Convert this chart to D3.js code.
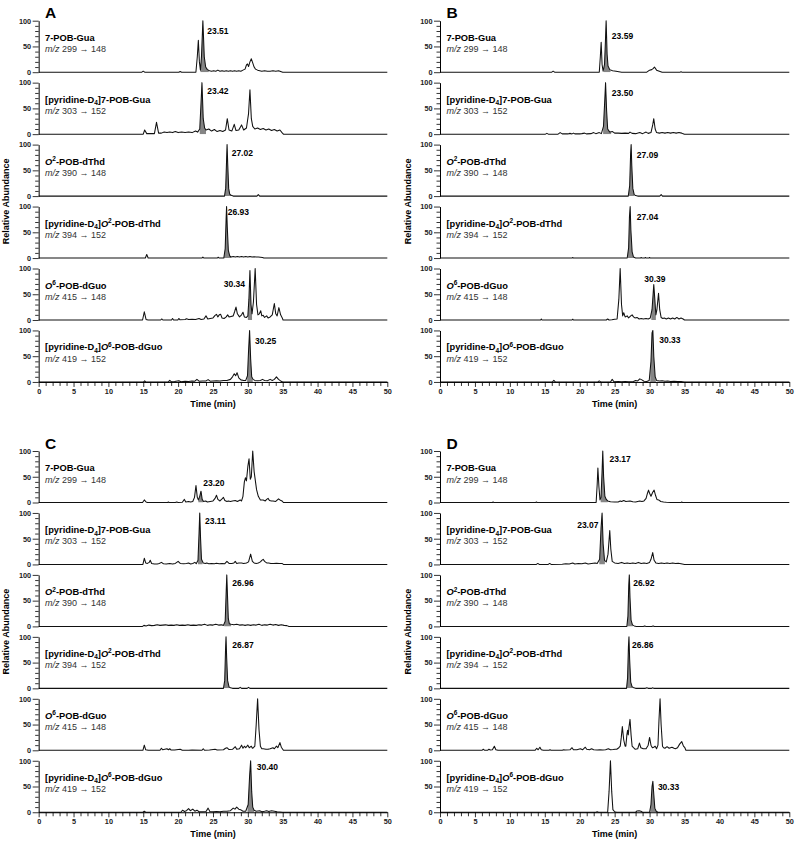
<!DOCTYPE html>
<html><head><meta charset="utf-8">
<script src="https://cdn.jsdelivr.net/npm/d3@7"></script>
<style>body{margin:0;background:#fff}svg{font-family:"Liberation Sans",Arial,sans-serif}</style>
</head><body>
<svg id="c" width="800" height="842"></svg>
<script>
// ---------------- DATA ----------------
const panelLetters = ["A","B","C","D"];
const xTickLabels = [0,5,10,15,20,25,30,35,40,45,50];
const xMinorTicks = [1,2,3,4,6,7,8,9,11,12,13,14,16,17,18,19,21,22,23,24,26,27,28,29,31,32,33,34,36,37,38,39,41,42,43,44,46,47,48,49];
const yTickLabels = [0,50,100];
const yMinorTicks = [10,20,30,40,60,70,80,90];
const compoundNames = [
 [["7-POB-Gua",""]],
 [["[pyridine-D",""],["4","sub"],["]7-POB-Gua",""]],
 [["O","i"],["2","sup"],["-POB-dThd",""]],
 [["[pyridine-D",""],["4","sub"],["]",""],["O","i"],["2","sup"],["-POB-dThd",""]],
 [["O","i"],["6","sup"],["-POB-dGuo",""]],
 [["[pyridine-D",""],["4","sub"],["]",""],["O","i"],["6","sup"],["-POB-dGuo",""]]
];
const mzPrecursor = [299,303,390,394,415,419];
const mzProduct = [148,152,148,152,148,152];

// chromatogram traces [time (min), relative abundance]
const A1 = [[0,0],[14.8,0],[15,2],[15.2,0],[20.1,0],[20.3,1.5],[20.5,0],[22.55,0],[22.75,30],[22.9,62],[23.05,20],[23.2,4],[23.35,30],[23.55,100],[23.75,30],[23.95,10],[24.2,5],[24.5,3],[24.8,2],[25.1,3],[25.4,2],[25.7,4],[26,2],[26.3,3],[26.6,2],[26.9,3],[27.2,2],[27.5,3],[27.8,2],[28.1,3],[28.4,2],[28.7,3],[29.0,2],[29.3,4],[29.6,6],[29.8,14],[29.95,16],[30.1,11],[30.3,20],[30.5,26],[30.7,18],[30.9,10],[31.1,6],[31.4,4],[31.7,3],[32,2],[32.4,3],[32.8,2],[33.2,2],[33.6,3],[34,2],[34.4,3],[34.8,1],[35,0],[50,0]];
const A2 = [[0,0],[15,0],[15.2,8],[15.5,1],[16.6,1],[16.9,23],[17.2,2],[17.6,2],[18,4],[18.4,3],[18.8,4],[19.2,3],[19.6,5],[20,3],[20.5,4],[21,3],[21.5,4],[22,3],[22.5,6],[22.8,4],[23.1,10],[23.25,50],[23.42,100],[23.6,30],[23.8,12],[24,8],[24.4,10],[24.8,6],[25.2,9],[25.6,5],[26,7],[26.4,5],[26.8,8],[27.05,30],[27.3,8],[27.7,6],[28.05,19],[28.3,7],[28.7,8],[29.1,18],[29.4,8],[29.8,12],[30.1,40],[30.3,86],[30.5,30],[30.7,15],[31,10],[31.4,12],[31.8,9],[32.2,11],[32.6,8],[33,10],[33.4,7],[33.8,9],[34.2,6],[34.6,8],[34.9,3],[35.1,0],[50,0]];
const A3 = [[0,0],[26.65,0],[26.82,15],[26.95,70],[27.02,100],[27.12,60],[27.25,15],[27.4,4],[27.6,1.5],[27.9,0],[31.3,0],[31.5,3],[31.7,0],[50,0]];
const A4 = [[0,0],[15.3,0],[15.5,7],[15.7,0],[23.4,0],[23.55,2],[23.7,0],[25.6,0],[25.75,1.5],[25.9,0],[26.55,0],[26.75,18],[26.88,75],[26.95,100],[27.05,60],[27.2,15],[27.4,4],[27.6,2],[27.9,3],[28.2,2],[28.5,3],[28.8,2],[29.1,3],[29.4,2],[29.7,3],[30.0,2],[30.3,3],[30.6,2],[30.9,2.5],[31.2,2],[31.5,2],[31.8,1.5],[32.1,1],[32.3,0],[50,0]];
const A5 = [[0,0],[14.9,0],[15.15,16],[15.4,1],[15.7,0],[17.5,0],[17.65,2],[17.8,0],[19.05,0],[19.2,3],[19.35,0],[19.95,0],[20.1,3],[20.25,0.5],[21,1],[21.2,2.5],[21.5,1],[22,1.5],[22.5,1],[23,3],[23.3,1],[23.7,2],[24.0,8],[24.25,2],[24.6,3],[25,4],[25.3,9],[25.5,11],[25.7,6],[25.9,10],[26.1,11],[26.3,4],[26.6,3],[26.9,6],[27.1,10],[27.3,6],[27.6,7],[27.9,8],[28.1,16],[28.3,25],[28.5,12],[28.8,6],[29.1,10],[29.3,15],[29.5,6],[29.8,5],[30.0,8],[30.15,40],[30.3,96],[30.45,30],[30.6,12],[30.8,35],[31.05,100],[31.25,30],[31.45,10],[31.65,12],[31.85,18],[32.0,8],[32.2,9],[32.4,5],[32.7,8],[32.9,4],[33.2,6],[33.5,10],[33.8,32],[34.0,12],[34.2,8],[34.45,24],[34.7,10],[34.9,5],[35.05,0],[50,0]];
const A6 = [[0,0],[15.05,0],[15.2,2],[15.35,0],[18.6,0],[18.8,3],[19.0,0.5],[19.5,1],[20.1,2.5],[20.4,0.5],[21,1.5],[21.5,1],[22,2],[22.4,1.5],[22.7,5],[23,1.5],[23.5,2],[24.0,2],[24.3,4.5],[24.6,1.5],[25,2],[25.5,2.5],[26,2],[26.5,3],[27,3],[27.5,5],[27.8,10],[28.05,16],[28.25,12],[28.45,18],[28.7,8],[29,4],[29.4,3],[29.7,3],[29.95,12],[30.1,60],[30.25,100],[30.4,45],[30.55,10],[30.75,5],[31,3],[31.4,2.5],[31.8,3],[32.1,5],[32.4,3],[32.8,2.5],[33.2,5],[33.5,3],[33.8,5],[34.1,10],[34.4,5],[34.7,2],[35,0],[50,0]];

const B1 = [[0,0],[16,0],[16.2,2],[16.4,0],[22.8,0],[22.95,30],[23.07,58],[23.2,15],[23.35,2],[23.55,15],[23.68,60],[23.78,100],[23.92,35],[24.05,12],[24.3,5],[24.7,3],[25.2,2],[25.6,1],[26,0],[29.6,0],[30.0,4],[30.3,5],[30.5,7],[30.7,10],[31.0,4],[31.4,2],[31.8,0],[34.4,0],[34.5,1],[34.6,0],[50,0]];
const B2 = [[0,0],[15.1,0],[15.3,1.5],[15.5,0],[16.9,0],[17.2,3],[17.5,0.5],[18.3,0.5],[18.6,1.5],[18.9,0.5],[19.1,2],[19.3,0.5],[20,0.5],[20.3,1],[20.7,2],[21,0.5],[21.6,1],[22,3],[22.3,1],[22.8,3],[23.1,1],[23.4,15],[23.6,70],[23.7,100],[23.85,45],[24.0,10],[24.3,4],[24.7,5],[25.0,2],[25.5,2],[26,1.5],[26.5,2],[27,1.5],[27.2,4],[27.5,1.5],[28,1],[28.6,3],[29,1],[29.5,4],[29.8,1.5],[30.2,3],[30.45,18],[30.6,30],[30.8,10],[31.0,3],[31.4,2],[31.8,3],[32.2,2],[32.6,3],[33,2],[33.4,3],[33.8,2],[34.2,3],[34.6,2],[34.8,1],[35,0],[50,0]];
const B3 = [[0,0],[26.95,0],[27.15,20],[27.28,80],[27.36,100],[27.45,60],[27.6,15],[27.8,3],[28.0,1],[28.3,0],[31.45,0],[31.66,3],[31.85,0],[50,0]];
const B4 = [[0,0],[18.9,0],[19.0,1],[19.1,0],[26.8,0],[27.0,20],[27.12,80],[27.22,100],[27.32,55],[27.5,12],[27.7,2],[28.0,0],[28.7,0],[28.8,1.2],[28.9,0],[29.3,0],[29.4,1.2],[29.5,0],[29.9,0],[30.0,1.2],[30.1,0],[50,0]];
const B5 = [[0,0],[14.4,0],[14.5,2],[14.6,0],[18.9,0],[19.0,1.5],[19.1,0],[23.8,0],[24.0,2],[24.2,0],[24.6,0.5],[25.0,1.5],[25.35,2],[25.6,40],[25.79,100],[25.98,30],[26.15,8],[26.3,14],[26.5,6],[26.8,8],[27.0,4],[27.3,8],[27.5,10],[27.7,6],[27.9,4],[28.2,5],[28.5,2],[28.8,3],[29.1,2],[29.5,3],[29.8,2],[30.1,4],[30.35,20],[30.6,69],[30.75,40],[30.9,10],[31.05,20],[31.28,52],[31.45,20],[31.65,5],[31.9,3],[32.1,4],[32.4,2],[32.7,4],[33,2],[33.3,4],[33.6,2],[33.9,5],[34.2,2],[34.5,4],[34.8,2],[35,0],[50,0]];
const B6 = [[0,0],[16.1,0],[16.3,3],[16.5,0],[22.6,0],[22.8,2],[23.0,0],[24.4,0],[24.65,5],[24.9,0.5],[25.5,1],[26,0.5],[26.5,1],[27,0.5],[27.7,1],[28.0,3],[28.3,2],[28.6,6],[28.9,4],[29.2,1.5],[29.6,1],[29.95,3],[30.2,40],[30.35,95],[30.47,100],[30.6,50],[30.8,10],[31.0,3],[31.4,2],[31.8,2.5],[32.2,1.5],[32.6,2],[33,1],[33.5,1.5],[34,1],[34.5,1],[35,0],[50,0]];

const C1 = [[0,0],[14.9,0],[15.15,5],[15.4,1],[15.6,0],[18.5,0],[18.6,1],[18.7,0],[19.6,0],[19.8,1],[20,0],[20.6,0.5],[20.9,6],[21.1,1],[21.5,2],[21.8,1],[22.1,2],[22.35,10],[22.56,33],[22.75,10],[22.9,5],[23.1,12],[23.28,22],[23.45,6],[23.65,2],[23.95,3],[24.2,1],[24.6,2],[25,3],[25.3,8],[25.5,14],[25.7,6],[26,3],[26.3,7],[26.5,10],[26.7,4],[27,2],[27.2,3],[27.5,2],[27.8,3],[28.2,4],[28.5,2],[28.9,5],[29.1,3],[29.3,12],[29.5,40],[29.65,48],[29.8,42],[30.0,70],[30.17,85],[30.35,45],[30.5,50],[30.7,100],[30.9,60],[31.05,45],[31.25,25],[31.5,12],[31.8,5],[32.2,5],[32.5,3],[32.7,6],[32.9,8],[33.1,4],[33.4,3],[33.6,3],[34.0,2],[34.4,7],[34.6,5],[34.9,3],[35.1,0],[50,0]];
const C2 = [[0,0],[14.95,0],[15.15,12],[15.35,3],[15.6,2],[15.85,4],[16.0,8],[16.2,2],[16.6,1],[17.0,1],[17.3,2],[17.6,4],[17.9,1.5],[18.3,1],[18.8,2],[19.2,1],[19.6,2],[20.0,6],[20.3,2],[20.8,1.5],[21.2,2],[21.5,3],[21.8,1],[22.1,2],[22.4,4],[22.6,1.5],[22.85,8],[23.0,60],[23.1,100],[23.22,50],[23.35,10],[23.6,3],[23.9,2],[24.1,3],[24.4,1.5],[24.8,2],[25.2,1.5],[25.5,2.5],[25.9,1.5],[26.3,2],[26.7,1.5],[27.0,6],[27.3,2],[27.7,2],[28.0,3],[28.2,6],[28.4,2],[28.7,3],[29.1,3],[29.4,2],[29.8,3],[30.1,5],[30.4,20],[30.65,6],[30.9,3],[31.2,2],[31.5,3],[31.8,5],[32.0,8],[32.2,10],[32.4,6],[32.7,3],[33.0,3],[33.3,2],[33.7,2],[34.1,2.5],[34.5,2],[34.9,2],[35.1,0],[50,0]];
const C3 = [[0,0],[14.9,0],[15.1,2],[15.4,1],[15.8,2.5],[16.2,1.5],[16.6,2],[17,3],[17.4,2],[17.8,2.5],[18.2,3],[18.6,2],[19,2.5],[19.4,2],[19.8,3],[20.2,2],[20.6,2.5],[21,2],[21.4,3],[21.8,2],[22.2,2.5],[22.6,2],[23,3],[23.4,2.5],[23.8,4],[24.2,2],[24.6,3],[25,2.5],[25.4,4],[25.8,2.5],[26.2,3],[26.5,2],[26.75,10],[26.9,70],[26.98,100],[27.08,60],[27.2,15],[27.35,5],[27.6,4],[28,3],[28.4,4],[28.8,2.5],[29.2,3],[29.6,2],[30,3],[30.4,2],[30.8,3],[31.2,2.5],[31.6,4],[32,2],[32.4,3],[32.8,2.5],[33.2,4],[33.6,2.5],[34,3.5],[34.4,2],[34.8,3],[35.2,2],[35.6,1.5],[35.9,0],[50,0]];
const C4 = [[0,0],[26.5,0],[26.68,15],[26.8,75],[26.87,100],[26.96,60],[27.1,15],[27.3,3],[27.5,1],[27.8,0],[28.7,0],[28.9,2],[29.1,0],[29.9,0],[30.1,2],[30.3,0],[50,0]];
const C5 = [[0,0],[14.95,0],[15.15,10],[15.35,1],[15.7,0],[17.4,0],[17.6,4],[17.8,1],[18.1,2],[18.4,3],[18.6,1],[18.8,3],[19.0,0.5],[19.5,0.5],[20.3,2],[20.6,0],[21.5,0],[22,0.5],[23.4,0],[23.6,3],[23.8,0],[24.5,0.5],[25.3,2],[25.6,0.5],[26.5,1],[26.8,4],[27.0,5],[27.3,1.5],[27.8,2],[28.2,7],[28.4,2],[28.8,3],[29.1,10],[29.3,4],[29.5,8],[29.7,5],[30.0,10],[30.2,5],[30.5,8],[30.65,4],[30.8,5],[31.0,8],[31.2,50],[31.4,100],[31.6,40],[31.8,8],[32.0,3],[32.2,3],[32.6,2],[32.9,2],[33.2,3],[33.6,5],[33.8,3],[34.1,8],[34.3,5],[34.6,15],[34.8,6],[34.95,3],[35.1,0],[50,0]];
const C6 = [[0,0],[14.95,0],[15.15,2],[15.35,0],[20.4,0],[20.65,4],[20.9,1.5],[21.2,3],[21.5,7],[21.75,3],[22.1,6],[22.4,2],[22.7,4],[23,1],[23.5,1],[24.0,1.5],[24.3,8],[24.55,1.5],[25,1],[25.5,1.5],[26,1],[26.5,2],[27,2],[27.5,3],[27.9,8],[28.15,6],[28.4,10],[28.7,6],[28.95,5],[29.3,2],[29.7,2],[30.05,15],[30.25,70],[30.4,100],[30.55,40],[30.7,10],[30.9,4],[31.2,2],[31.7,3],[32,1],[32.4,2],[32.7,3],[33,1.5],[33.4,3],[33.8,2],[34.2,1],[34.6,0.5],[35,0],[50,0]];

const D1 = [[0,0],[7.5,0],[7.6,1],[7.7,0],[13.7,0],[13.8,1],[13.9,0],[22.35,0],[22.5,35],[22.6,67],[22.75,30],[22.9,5],[23.05,10],[23.2,60],[23.3,100],[23.42,50],[23.6,12],[23.8,6],[24.0,3],[24.4,1.5],[25.0,1],[25.5,1],[25.8,3],[26.0,2],[26.3,4],[26.6,2],[26.9,2.5],[27.2,3],[27.6,1.5],[28.0,1],[28.3,2],[28.6,3],[28.9,2],[29.2,3],[29.5,8],[29.7,18],[29.85,24],[30.0,18],[30.2,12],[30.45,20],[30.65,24],[30.85,14],[31.05,6],[31.3,5],[31.6,2],[32.0,1],[32.4,0.5],[33,0],[34.5,0],[34.6,1],[34.7,0],[50,0]];
const D2 = [[0,0],[13.8,0],[14,2],[14.2,0],[15.5,0],[15.7,2],[15.9,0],[17.5,0.5],[18,1.5],[18.5,1],[19,3],[19.3,1],[19.8,2],[20.3,1.5],[20.8,3],[21.2,1],[21.7,2],[22.2,3],[22.5,2],[22.85,10],[23.05,70],[23.2,100],[23.35,40],[23.55,8],[23.8,5],[24.05,20],[24.3,66],[24.45,30],[24.65,6],[25,3],[25.5,2],[26,4],[26.4,2],[26.8,3],[27.2,2],[27.6,3],[28,2],[28.4,4],[28.8,2],[29.2,3],[29.6,2],[30.0,4],[30.2,10],[30.45,23],[30.65,8],[30.9,3],[31.3,2],[31.7,3],[32.1,2],[32.5,3],[32.9,2],[33.3,3],[33.7,2],[34.1,2.5],[34.5,1.5],[35,0],[50,0]];
const D3 = [[0,0],[26.75,0],[26.9,20],[27.02,80],[27.1,100],[27.2,55],[27.35,12],[27.55,3],[27.8,1],[28.1,0],[29.1,0],[29.3,1],[29.5,0],[30.3,0],[30.5,1],[30.7,0],[50,0]];
const D4 = [[0,0],[26.7,0],[26.85,20],[26.97,80],[27.05,100],[27.15,55],[27.3,12],[27.5,3],[27.75,1],[28.0,0],[29.4,0],[29.6,1],[29.8,0],[30.3,0],[30.45,1],[30.6,0],[50,0]];
const D5 = [[0,0],[6.0,0],[6.2,2],[6.4,0],[6.8,0],[7.0,2],[7.2,0.5],[7.5,1],[7.78,8],[8.0,1],[8.3,0],[13.6,0],[13.85,4],[14.05,1],[14.3,6],[14.5,1],[14.8,0],[15.6,0],[15.75,1],[15.9,0],[17.5,0],[17.7,1],[17.9,0.5],[18.6,1],[18.9,5],[19.1,1],[19.6,1],[20.1,3],[20.4,1],[20.8,6],[21.0,2],[21.4,1],[21.7,3],[22.0,1],[22.5,0.5],[22.9,1],[23.3,0.5],[23.7,1],[24.1,3],[24.4,1],[24.8,1.5],[25.07,2],[25.3,2],[25.6,5],[25.8,8],[25.95,25],[26.1,46],[26.3,20],[26.5,8],[26.6,8],[26.75,30],[26.85,39],[26.95,30],[27.05,45],[27.2,60],[27.35,30],[27.5,8],[27.7,5],[27.95,2],[28.3,3],[28.55,14],[28.75,5],[29.1,3],[29.5,3],[29.8,10],[30.0,25],[30.2,10],[30.4,5],[30.6,6],[30.8,8],[31.0,3],[31.2,10],[31.35,60],[31.5,100],[31.65,50],[31.85,8],[32.0,5],[32.2,4],[32.5,7],[32.8,4],[33.2,6],[33.5,4],[33.7,3],[34.0,5],[34.3,12],[34.6,17],[34.85,8],[35.05,5],[35.2,0],[50,0]];
const D6 = [[0,0],[22.3,0],[22.5,1],[22.7,0],[24.0,0],[24.2,40],[24.4,100],[24.58,40],[24.75,5],[25.0,1],[25.3,0],[28.0,0],[28.2,2.5],[28.5,3],[28.75,2],[29,0],[30.0,0],[30.2,15],[30.35,50],[30.47,60],[30.6,35],[30.75,8],[30.95,2],[31.2,0],[50,0]];

const traces = [[A1,A2,A3,A4,A5,A6],[B1,B2,B3,B4,B5,B6],[C1,C2,C3,C4,C5,C6],[D1,D2,D3,D4,D5,D6]];

// shaded (integrated) peak windows [t0, t1] per trace, null = none
const shadeA = [[23.2,24.4],[23.1,24.0],[26.6,27.6],[26.55,27.6],[30.0,30.6],[29.9,30.7]];
const shadeB = [[23.45,24.4],[23.35,24.5],[27.0,27.8],[26.85,27.7],[30.25,30.9],[30.1,30.9]];
const shadeC = [[22.9,23.6],[22.85,23.5],[26.6,27.6],[26.5,27.4],null,[29.95,30.9]];
const shadeD = [[23.0,24.0],[22.8,23.6],[26.8,27.6],[26.75,27.55],null,[30.1,30.95]];
const shades = [shadeA,shadeB,shadeC,shadeD];

// retention-time labels: [text, time, abundance, anchor]
const rtLabelsA = [["23.51",24.18,80,"start"],["23.42",24.18,84,"start"],["27.02",27.68,84,"start"],["26.93",27.11,90,"start"],["30.34",29.59,70,"end"],["30.25",31.02,79,"start"]];
const rtLabelsB = [["23.59",24.6,70,"start"],["23.50",24.6,80,"start"],["27.09",28.18,79,"start"],["27.04",28.18,79,"start"],["30.39",29.23,79,"start"],["30.33",31.38,81,"start"]];
const rtLabelsC = [["23.20",23.61,37,"start"],["23.11",23.85,84,"start"],["26.96",27.78,84,"start"],["26.87",27.78,84,"start"],null,["30.40",31.27,87,"start"]];
const rtLabelsD = [["23.17",24.26,84,"start"],["23.07",22.68,77,"end"],["26.92",27.65,84,"start"],["26.86",27.5,84,"start"],null,["30.33",31.19,49,"start"]];
const rtLabels = [rtLabelsA,rtLabelsB,rtLabelsC,rtLabelsD];

// ---------------- LAYOUT ----------------
const panelX = [[38.67,387.3],[440,789.3],[38.67,387.3],[440,789.3]];
const panelTop = [20.7,20.7,451,451];
const rowStep = 61.95, rowH = 51.5;

const svg = d3.select("#c");
const defs = svg.append("defs");

function rich(sel, segs){
  let shift = 0;
  segs.forEach(([t,s])=>{
    const target = s==="sub"?2.6:(s==="sup"?-3.4:0);
    const ts = sel.append("tspan").text(t).attr("dy", target-shift);
    shift = target;
    if(s==="sub"||s==="sup") ts.attr("font-size",6.5);
    if(s==="i") ts.attr("font-style","italic");
  });
}

panelLetters.forEach((L,p)=>{
  const [x0,x1] = panelX[p];
  const top = panelTop[p];
  const x = d3.scaleLinear().domain([0,50]).range([x0,x1]);
  const g = svg.append("g");

  g.append("text").attr("x",x0+6.4).attr("y",top-2.5)
    .attr("font-size",15.5).attr("font-weight","bold").text(L);

  const yMidTop = top, yMidBot = top+5*rowStep+rowH;
  g.append("text").attr("transform",`translate(${x0-29.3},${(yMidTop+yMidBot)/2}) rotate(-90)`)
    .attr("text-anchor","middle").attr("font-size",9).attr("font-weight","bold").text("Relative Abundance");

  traces[p].forEach((tr,i)=>{
    const t0 = top+i*rowStep;
    const y = d3.scaleLinear().domain([0,100]).range([t0+rowH,t0]);
    const sh = shades[p][i];
    if(sh){
      const id = `clip${p}_${i}`;
      defs.append("clipPath").attr("id",id).append("rect")
        .attr("x",x(sh[0])).attr("width",x(sh[1])-x(sh[0]))
        .attr("y",t0-2).attr("height",rowH+2);
      g.append("path").datum(tr).attr("clip-path",`url(#${id})`)
        .attr("fill","#858585")
        .attr("d",d3.area().x(d=>x(d[0])).y0(y(0)).y1(d=>y(d[1])));
    }
    g.append("path").datum(tr).attr("fill","none").attr("stroke","#111").attr("stroke-width",1.05)
      .attr("stroke-linejoin","round")
      .attr("d",d3.line().x(d=>x(d[0])).y(d=>y(d[1])));

    // y axis
    const ya = g.append("g").attr("transform",`translate(${x0},0)`)
      .call(d3.axisLeft(y).tickValues(yTickLabels).tickSize(6).tickSizeOuter(0).tickPadding(1.5));
    ya.selectAll("text").attr("font-size",7.3).attr("font-weight","bold").attr("fill","#222").attr("font-family","Liberation Sans, Arial");
    ya.select(".domain").attr("stroke-width",1);
    const ym = g.append("g").attr("transform",`translate(${x0},0)`)
      .call(d3.axisLeft(y).tickValues(yMinorTicks).tickSize(3.5).tickSizeOuter(0).tickFormat(""));
    ym.select(".domain").remove();
    g.selectAll(".tick line").attr("stroke-width",0.8);

    // compound labels
    const nm = g.append("text").attr("x",x0+6.4).attr("y",t0+20).attr("font-size",9.3).attr("font-weight","bold");
    rich(nm, compoundNames[i]);
    const mz = g.append("text").attr("x",x0+6.4).attr("y",t0+31.5).attr("font-size",9).attr("fill","#333");
    mz.append("tspan").attr("font-style","italic").text("m/z");
    mz.append("tspan").text(` ${mzPrecursor[i]} \u2192 ${mzProduct[i]}`);

    const lb = rtLabels[p][i];
    if(lb){
      g.append("text").attr("x",x(lb[1])).attr("y",y(lb[2])+3)
        .attr("text-anchor",lb[3]).attr("font-size",8.5).attr("font-weight","bold").text(lb[0]);
    }

    if(i===5){
      const base = y(0);
      const xa = g.append("g").attr("transform",`translate(0,${base})`)
        .call(d3.axisBottom(x).tickValues(xTickLabels).tickSize(5).tickSizeOuter(0).tickPadding(1.5));
      xa.selectAll("text").attr("font-size",7.3).attr("font-weight","bold").attr("fill","#222").attr("font-family","Liberation Sans, Arial");
      xa.selectAll(".tick line").attr("stroke-width",0.8);
      xa.select(".domain").attr("stroke-width",1);
      const xm = g.append("g").attr("transform",`translate(0,${base})`)
        .call(d3.axisBottom(x).tickValues(xMinorTicks).tickSize(4).tickSizeOuter(0).tickFormat(""));
      xm.select(".domain").remove();
      xm.selectAll(".tick line").attr("stroke-width",0.8);
      g.append("text").attr("x",(x0+x1)/2).attr("y",base+25).attr("text-anchor","middle")
        .attr("font-size",9).attr("font-weight","bold").text("Time (min)");
    }
  });
});
</script>
</body></html>
